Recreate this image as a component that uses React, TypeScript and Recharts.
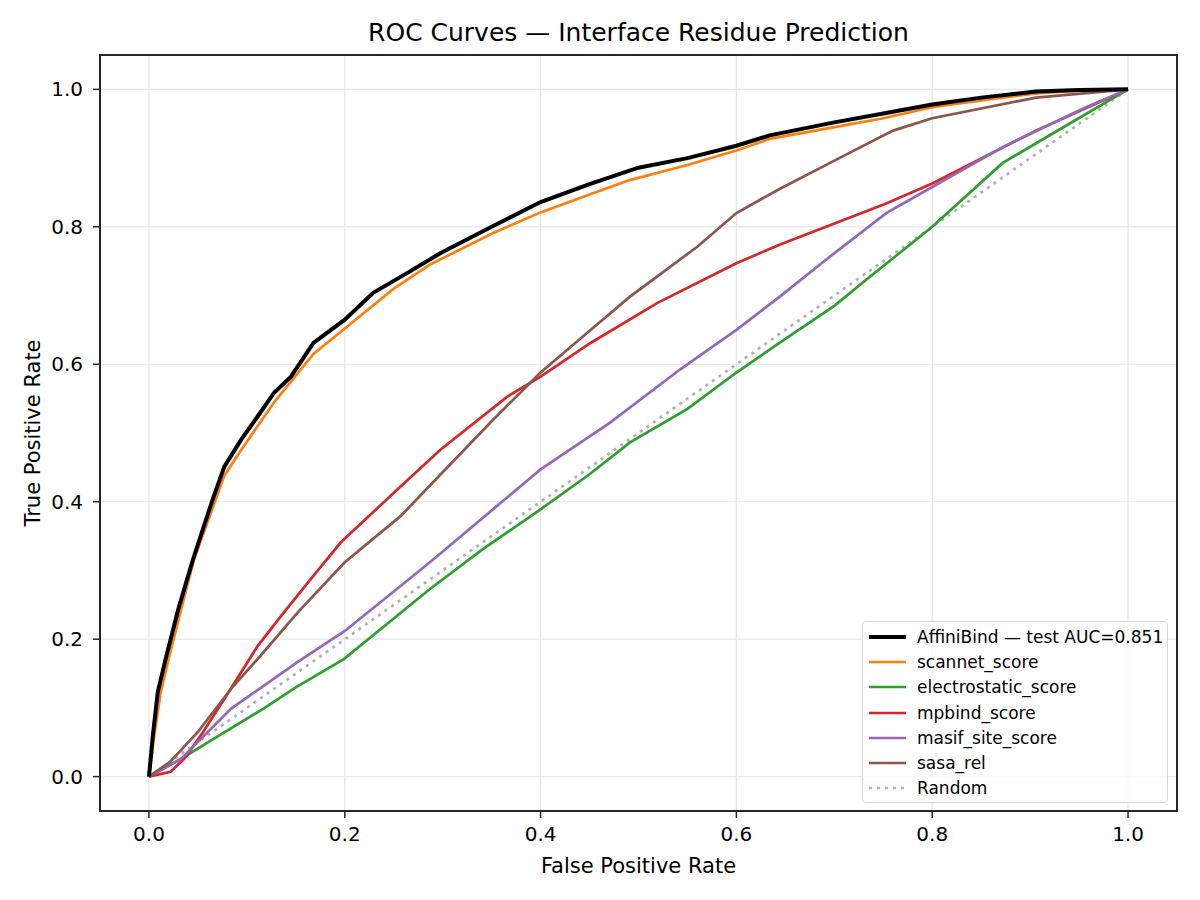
import { LineChart, Line, XAxis, YAxis, CartesianGrid, Label } from 'recharts';

const ticks = [0, 0.2, 0.4, 0.6, 0.8, 1.0];

const affiniFpr = [0, 0.004, 0.009, 0.017, 0.03, 0.045, 0.065, 0.077, 0.094, 0.111, 0.128, 0.145, 0.168, 0.2, 0.229, 0.264, 0.298, 0.35, 0.4, 0.45, 0.5, 0.55, 0.6, 0.634, 0.7, 0.75, 0.8, 0.85, 0.906, 0.95, 1];
const affiniTpr = [0, 0.06, 0.123, 0.171, 0.244, 0.316, 0.403, 0.451, 0.49, 0.524, 0.559, 0.582, 0.631, 0.665, 0.704, 0.733, 0.762, 0.8, 0.836, 0.862, 0.886, 0.9, 0.918, 0.933, 0.952, 0.965, 0.978, 0.988, 0.997, 0.999, 1];

const scannetFpr = [0, 0.005, 0.012, 0.02, 0.033, 0.046, 0.077, 0.094, 0.128, 0.168, 0.2, 0.25, 0.287, 0.35, 0.4, 0.45, 0.491, 0.55, 0.6, 0.634, 0.7, 0.75, 0.8, 0.85, 0.906, 0.95, 1];
const scannetTpr = [0, 0.055, 0.123, 0.171, 0.244, 0.316, 0.438, 0.475, 0.545, 0.615, 0.652, 0.71, 0.745, 0.79, 0.821, 0.847, 0.868, 0.89, 0.911, 0.928, 0.945, 0.958, 0.974, 0.984, 0.994, 0.998, 1];

const electroFpr = [0, 0.033, 0.066, 0.117, 0.15, 0.199, 0.25, 0.287, 0.341, 0.4, 0.45, 0.491, 0.55, 0.6, 0.644, 0.7, 0.736, 0.8, 0.872, 0.94, 1];
const electroTpr = [0, 0.026, 0.055, 0.099, 0.13, 0.171, 0.23, 0.273, 0.331, 0.389, 0.44, 0.486, 0.535, 0.588, 0.631, 0.685, 0.727, 0.8, 0.893, 0.95, 1];

const mpbindFpr = [0, 0.022, 0.036, 0.053, 0.077, 0.111, 0.135, 0.165, 0.196, 0.257, 0.298, 0.366, 0.4, 0.451, 0.519, 0.6, 0.644, 0.753, 0.8, 0.906, 1];
const mpbindTpr = [0, 0.007, 0.026, 0.06, 0.113, 0.19, 0.234, 0.287, 0.341, 0.422, 0.476, 0.553, 0.582, 0.631, 0.689, 0.747, 0.774, 0.834, 0.863, 0.94, 1];

const masifFpr = [0, 0.033, 0.084, 0.152, 0.2, 0.287, 0.4, 0.471, 0.542, 0.6, 0.644, 0.695, 0.753, 0.8, 0.872, 0.957, 1];
const masifTpr = [0, 0.026, 0.099, 0.167, 0.212, 0.312, 0.447, 0.515, 0.592, 0.65, 0.698, 0.756, 0.82, 0.858, 0.916, 0.974, 1];

const sasaFpr = [0, 0.022, 0.05, 0.084, 0.117, 0.152, 0.2, 0.257, 0.298, 0.352, 0.4, 0.451, 0.491, 0.56, 0.6, 0.644, 0.712, 0.76, 0.8, 0.906, 1];
const sasaTpr = [0, 0.022, 0.065, 0.128, 0.181, 0.239, 0.312, 0.379, 0.44, 0.52, 0.588, 0.65, 0.698, 0.771, 0.82, 0.855, 0.905, 0.94, 0.958, 0.988, 1];

const randomFpr = [0, 1];
const randomTpr = [0, 1];

const toPoints = (xs: number[], ys: number[]) => xs.map((x, i) => ({ x, y: ys[i] }));

const series = [
  { name: 'AffiniBind — test AUC=0.851', color: '#000000', width: 4, dash: undefined, data: toPoints(affiniFpr, affiniTpr) },
  { name: 'scannet_score', color: '#ff7f0e', width: 2.7, dash: undefined, data: toPoints(scannetFpr, scannetTpr) },
  { name: 'electrostatic_score', color: '#2ca02c', width: 2.7, dash: undefined, data: toPoints(electroFpr, electroTpr) },
  { name: 'mpbind_score', color: '#d62728', width: 2.7, dash: undefined, data: toPoints(mpbindFpr, mpbindTpr) },
  { name: 'masif_site_score', color: '#9467bd', width: 2.7, dash: undefined, data: toPoints(masifFpr, masifTpr) },
  { name: 'sasa_rel', color: '#8c564b', width: 2.7, dash: undefined, data: toPoints(sasaFpr, sasaTpr) },
  { name: 'Random', color: '#b0b0b0', width: 2.7, dash: '3 5', data: toPoints(randomFpr, randomTpr) },
];

// draw order: random first, then the rest, black on top
const drawOrder = [6, 1, 2, 3, 4, 5, 0];

const font = '"DejaVu Sans", sans-serif';
const fmt = (v: number) => v.toFixed(1);

export default function App() {
  return (
    <div style={{ position: 'absolute', left: 0, top: 0, width: 1200, height: 900, background: '#fff', fontFamily: font }}>
      <div style={{ position: 'absolute', left: 0, width: 1277, top: 17, textAlign: 'center', fontSize: 25, lineHeight: '32px', color: '#000' }}>
        ROC Curves — Interface Residue Prediction
      </div>
      <LineChart width={1200} height={900} margin={{ top: 55, right: 23, bottom: 19, left: 20 }}>
        <CartesianGrid stroke="#e6e6e6" strokeWidth={1.2} />
        <XAxis
          dataKey="x"
          type="number"
          domain={[-0.05, 1.05]}
          allowDataOverflow
          ticks={ticks}
          tickFormatter={fmt}
          height={70}
          tickSize={7}
          tickMargin={9}
          axisLine={false}
          tickLine={{ stroke: '#262626', strokeWidth: 1.5 }}
          tick={{ fill: '#000', fontSize: 20, fontFamily: font }}
        >
          <Label value="False Positive Rate" position="insideBottom" offset={8} style={{ fill: '#000', fontSize: 21, fontFamily: font }} />
        </XAxis>
        <YAxis
          type="number"
          domain={[-0.05, 1.05]}
          allowDataOverflow
          ticks={ticks}
          tickFormatter={fmt}
          width={80}
          tickSize={7}
          tickMargin={10}
          axisLine={false}
          tickLine={{ stroke: '#262626', strokeWidth: 1.5 }}
          tick={{ fill: '#000', fontSize: 20, fontFamily: font }}
        >
          <Label value="True Positive Rate" angle={-90} position="insideLeft" offset={13} style={{ fill: '#000', fontSize: 21, fontFamily: font, textAnchor: 'middle' }} />
        </YAxis>
        {drawOrder.map((i) => {
          const s = series[i];
          return (
            <Line
              key={s.name}
              data={s.data}
              dataKey="y"
              name={s.name}
              type="linear"
              stroke={s.color}
              strokeWidth={s.width}
              strokeDasharray={s.dash}
              dot={false}
              activeDot={false}
              isAnimationActive={false}
            />
          );
        })}
      </LineChart>
      <div
        style={{
          position: 'absolute',
          left: 99,
          top: 54,
          width: 1079,
          height: 758,
          boxSizing: 'border-box',
          border: '2px solid #262626',
          pointerEvents: 'none',
        }}
      />
      <div
        style={{
          position: 'absolute',
          left: 862,
          top: 621,
          width: 306,
          height: 182,
          boxSizing: 'border-box',
          border: '1.5px solid #d6d6d6',
          borderRadius: 4,
          background: 'rgba(255,255,255,0.8)',
          padding: '2px 0 0 6px',
        }}
      >
        {series.map((s) => (
          <div key={s.name} style={{ display: 'flex', alignItems: 'center', height: 25.3, fontSize: 17, color: '#000', whiteSpace: 'nowrap' }}>
            <svg width={37} height={8} style={{ marginRight: 11, flexShrink: 0 }}>
              <line x1={0} y1={4} x2={37} y2={4} stroke={s.color} strokeWidth={s.width} strokeDasharray={s.dash} />
            </svg>
            <span>{s.name}</span>
          </div>
        ))}
      </div>
    </div>
  );
}
